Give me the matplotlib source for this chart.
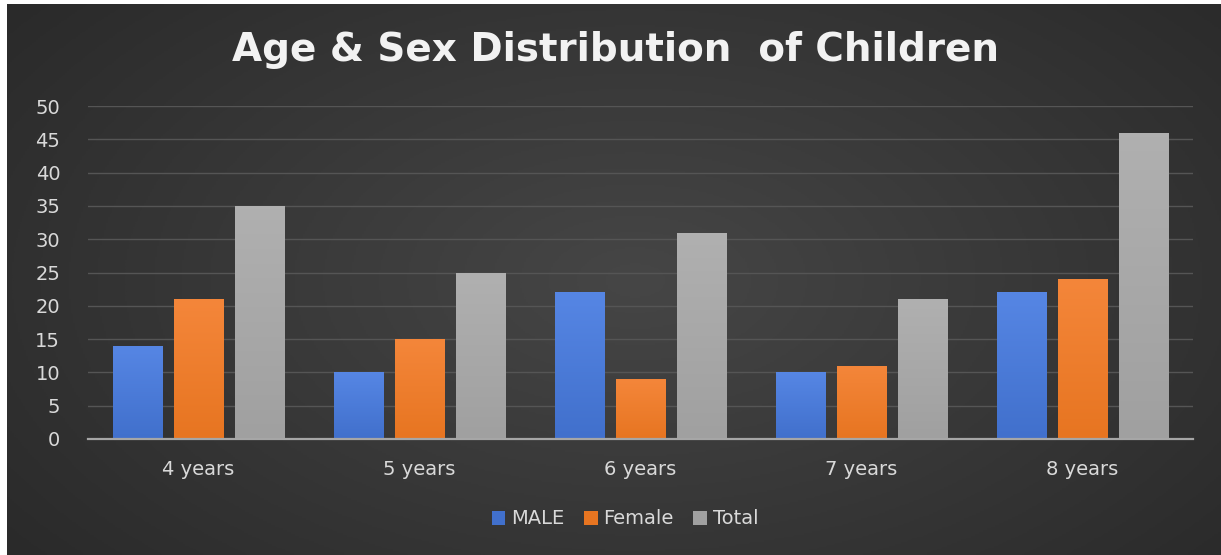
import numpy as np
import matplotlib
matplotlib.use("Agg")
import matplotlib.pyplot as plt
from matplotlib.patches import Patch
from matplotlib.colors import LinearSegmentedColormap

categories = ["4 years", "5 years", "6 years", "7 years", "8 years"]
male = [14, 10, 22, 10, 22]
female = [21, 15, 9, 11, 24]
total = [35, 25, 31, 21, 46]
series_names = ["MALE", "Female", "Total"]
yticks = list(range(0, 55, 5))

W, H = 1221, 555
fig = plt.figure(figsize=(W / 100, H / 100), dpi=100)
fig.patch.set_facecolor("white")

# dark radial background panel
bg = fig.add_axes([7 / W, 0, (W - 7) / W, (H - 4) / H])
bg.set_axis_off()
yy, xx = np.mgrid[0:300, 0:600]
cx, cy = 310, 150
r = np.sqrt(((xx - cx) / 420) ** 2 + ((yy - cy) / 260) ** 2)
r = np.clip(r, 0, 1)
bg_cmap = LinearSegmentedColormap.from_list("bgc", ["#464646", "#282828"])
bg.imshow(r, cmap=bg_cmap, aspect="auto", extent=[0, 1, 0, 1], vmin=0, vmax=1)
bg.set_xlim(0, 1)
bg.set_ylim(0, 1)

ax = fig.add_axes([88 / W, (H - 439) / H, (1193 - 88) / W, (439 - 106) / H])
ax.patch.set_alpha(0)

x = np.arange(len(categories))
bw = 0.222
step = 0.277
cols = [("#5686e4", "#4170cc"), ("#f4863a", "#e77521"), ("#b0b0b0", "#a0a0a0")]
for i, (vals, (ctop, cbot), name) in enumerate(zip([male, female, total], cols, series_names)):
    bars = ax.bar(x + (i - 1) * step, vals, width=bw, color=cbot, zorder=3, label=name)
    cm = LinearSegmentedColormap.from_list(name, [cbot, ctop])
    grad = np.linspace(0, 1, 64).reshape(-1, 1)
    for b in bars:
        x0, y0 = b.get_x(), b.get_y()
        im = ax.imshow(grad, cmap=cm, aspect="auto", origin="lower",
                       extent=[x0, x0 + b.get_width(), y0, y0 + b.get_height()], zorder=4)
        im.set_clip_path(b)

ax.set_xlim(-0.5, len(categories) - 0.5)
ax.set_ylim(0, 50)
ax.set_yticks(yticks)
ax.set_xticks(x)
ax.set_xticklabels(categories)
ax.yaxis.grid(True, color="#555555", linewidth=1, zorder=0)
ax.set_axisbelow(True)
for s in ["top", "right", "left"]:
    ax.spines[s].set_visible(False)
ax.spines["bottom"].set_color("#a6a6a6")
ax.spines["bottom"].set_linewidth(1.6)
ax.spines["bottom"].set_zorder(6)
ax.tick_params(axis="both", length=0, colors="#d9d9d9", labelsize=14)
ax.tick_params(axis="y", pad=20)
ax.tick_params(axis="x", pad=15)

fig.text(615 / W, 1 - 50 / H, "Age & Sex Distribution  of Children", ha="center", va="center",
         color="#f2f2f2", fontsize=28, fontweight="bold")

handles = [Patch(facecolor=c[1], edgecolor="none") for c in cols]
fig.legend(handles, series_names, loc="center", bbox_to_anchor=(625 / W, 1 - 519 / H),
           ncol=3, frameon=False, fontsize=14, labelcolor="#d9d9d9",
           handlelength=0.7, handleheight=0.7, handletextpad=0.3, columnspacing=1.0)

fig.savefig("out.png", dpi=100, facecolor=fig.get_facecolor())
